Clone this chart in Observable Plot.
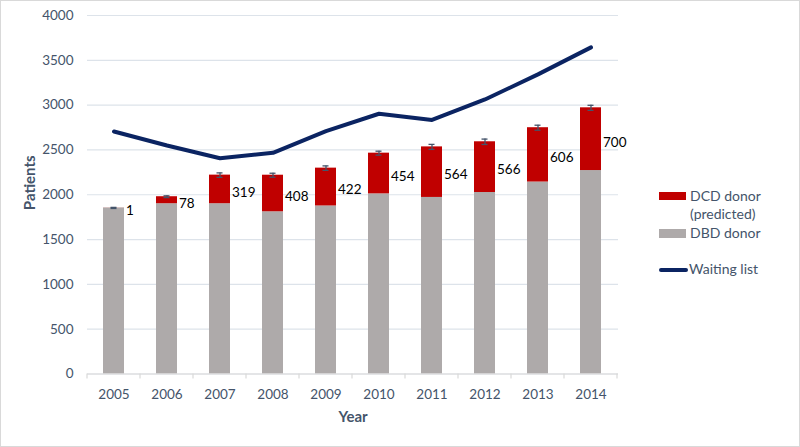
<!DOCTYPE html>
<html><head><meta charset="utf-8">
<script src="https://cdn.jsdelivr.net/npm/d3@7"></script>
<script src="https://cdn.jsdelivr.net/npm/@observablehq/plot@0.6"></script>
<style>
body{margin:0;background:#fff;font-family:Lato,sans-serif}
#wrap{position:relative;width:800px;height:447px;overflow:hidden}
#frame{position:absolute;left:0;top:0;width:800px;height:447px;box-sizing:border-box;border:1px solid #d9d9d9;pointer-events:none}
.leg{position:absolute;font-family:Lato,sans-serif;font-size:14px;line-height:18px;color:#44546A;white-space:nowrap}
.sw{position:absolute}
</style></head><body><div id="wrap"></div>
<script>
const years = ["2005","2006","2007","2008","2009","2010","2011","2012","2013","2014"];
const dbdDonor = [1852, 1900, 1900, 1810, 1875, 2010, 1970, 2025, 2142, 2270];
const dcdDonor = [1, 78, 319, 408, 422, 454, 564, 566, 606, 700];
const dcdError = [6, 10, 25, 22, 25, 22, 28, 30, 28, 28];
const waitingList = [2706, 2550, 2408, 2468, 2710, 2904, 2835, 3063, 3343, 3644];
const yTicks = [0, 500, 1000, 1500, 2000, 2500, 3000, 3500, 4000];
const seriesNames = ["DBD donor", "DCD donor (predicted)"];
const seriesColors = ["#AEAAAA", "#C00000"];

const stacked = [];
years.forEach((y, i) => {
  stacked.push({year: y, type: seriesNames[0], value: dbdDonor[i]});
  stacked.push({year: y, type: seriesNames[1], value: dcdDonor[i]});
});
const rows = years.map((y, i) => ({
  year: y, dbd: dbdDonor[i], dcd: dcdDonor[i], total: dbdDonor[i] + dcdDonor[i],
  err: dcdError[i], wait: waitingList[i]
}));

const ink = "#44546A";
const chart = Plot.plot({
  width: 800, height: 447,
  marginLeft: 87, marginRight: 182, marginTop: 15, marginBottom: 73.5,
  style: {fontFamily: "Lato, sans-serif", background: "#fff"},
  x: {domain: years, paddingInner: 0.6, paddingOuter: 0.3, label: null},
  y: {domain: [0, 4000], label: null},
  color: {domain: seriesNames, range: seriesColors},
  marks: [
    Plot.gridY(yTicks, {stroke: "#dde3ea", strokeOpacity: 1, strokeWidth: 1.2}),
    Plot.barY(stacked, {x: "year", y: "value", fill: "type"}),
    Plot.ruleY([0], {stroke: "#d9d9d9", strokeWidth: 1.2}),
    Plot.ruleX(rows, {x: "year", y1: d => d.total - d.err, y2: d => d.total + d.err, stroke: ink, strokeWidth: 1.3}),
    Plot.tickY(rows, {x: "year", y: d => d.total - d.err, stroke: ink, strokeWidth: 1.3, insetLeft: 7.5, insetRight: 7.5}),
    Plot.tickY(rows, {x: "year", y: d => d.total + d.err, stroke: ink, strokeWidth: 1.3, insetLeft: 7.5, insetRight: 7.5}),
    Plot.text(rows, {x: "year", y: d => d.dbd + d.dcd / 2, text: d => String(d.dcd), textAnchor: "start", dx: 12, dy: 3, fontSize: 13.5, fill: "#000"}),
    Plot.lineY(rows, {x: "year", y: "wait", stroke: "#0b2462", strokeWidth: 4, strokeLinejoin: "round", strokeLinecap: "round"}),
    Plot.axisY(yTicks, {tickSize: 0, tickPadding: 14, fontSize: 13.5, fill: ink, label: null, tickFormat: d => String(d)}),
    Plot.axisX({tickSize: 0, tickPadding: 15, fontSize: 13.5, fill: ink, label: null}),
    Plot.text(["Patients"], {frameAnchor: "left", textAnchor: "middle", lineAnchor: "middle", rotate: -90, dx: -57, dy: -12, fontSize: 15, fontWeight: "bold", fill: ink}),
    Plot.text(["Year"], {frameAnchor: "bottom", textAnchor: "middle", lineAnchor: "middle", dy: 43.5, fontSize: 15, fontWeight: "bold", fill: ink})
  ]
});

const wrap = document.getElementById("wrap");
wrap.appendChild(chart);

// category boundary ticks below the baseline, from the x scale
const xs = chart.scale("x");
const ys = chart.scale("y");
const base = ys.apply(0);
const bounds = years.map(y => xs.apply(y) + xs.bandwidth / 2 - xs.step / 2);
bounds.push(xs.apply(years[years.length - 1]) + xs.bandwidth / 2 + xs.step / 2);
const g = d3.select(chart).append("g");
bounds.forEach(b => {
  g.append("line").attr("x1", b).attr("x2", b).attr("y1", base).attr("y2", base + 5)
    .attr("stroke", "#d9d9d9").attr("stroke-width", 1.2);
});

// legend overlay (right side)
const legendItems = [
  {kind: "box", color: seriesColors[1], left: 659, top: 191.5, w: 27, h: 8.5, lines: ["DCD donor", "(predicted)"], textTop: 187},
  {kind: "box", color: seriesColors[0], left: 659, top: 229, w: 27, h: 8.5, lines: ["DBD donor"], textTop: 224},
  {kind: "line", color: "#0b2462", left: 659, top: 268, w: 29, h: 4, lines: ["Waiting list"], textTop: 260}
];
legendItems.forEach(it => {
  const s = document.createElement("div");
  s.className = "sw";
  s.style.left = it.left + "px"; s.style.top = it.top + "px";
  s.style.width = it.w + "px"; s.style.height = it.h + "px";
  s.style.background = it.color;
  if (it.kind === "line") s.style.borderRadius = "2px";
  wrap.appendChild(s);
  it.lines.forEach((t, k) => {
    const d = document.createElement("div");
    d.className = "leg";
    d.textContent = t;
    d.style.left = (it.kind === "line" ? 689 : 690) + "px";
    d.style.top = (it.textTop + k * 18) + "px";
    wrap.appendChild(d);
  });
});
const fr = document.createElement("div");
fr.id = "frame";
wrap.appendChild(fr);
</script>
</body></html>
